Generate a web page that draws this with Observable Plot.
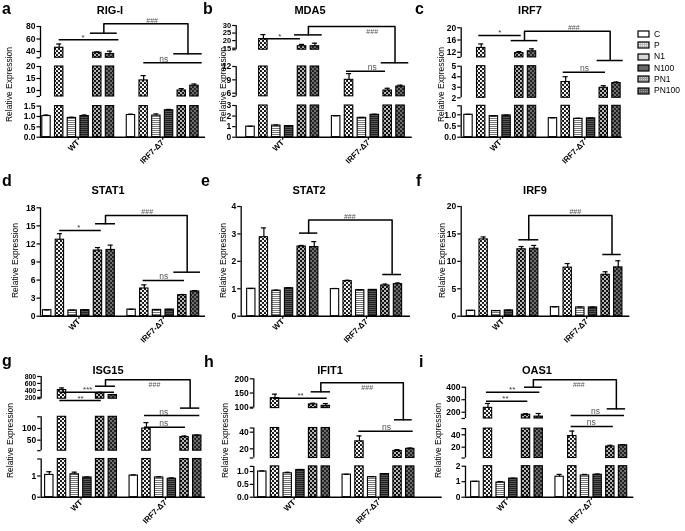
<!DOCTYPE html>
<html><head><meta charset="utf-8">
<script src="https://cdn.jsdelivr.net/npm/d3@7"></script>
<script src="https://cdn.jsdelivr.net/npm/@observablehq/plot@0.6"></script>
<style>
body{margin:0;background:#fff;font-family:"Liberation Sans",Arial,sans-serif;}
#fig{position:relative;width:685px;height:531px;overflow:hidden;background:#fff;}
.panel{position:absolute;will-change:transform;}
.panel svg{overflow:visible;}
.letter{position:absolute;font-weight:bold;font-size:16px;line-height:1;}
.title{position:absolute;font-weight:bold;font-size:11px;line-height:1;transform:translateX(-50%);white-space:nowrap;}
.leg{position:absolute;font-size:8.5px;line-height:1;white-space:nowrap;}
</style></head>
<body>
<svg width="0" height="0" style="position:absolute">
<defs>
<pattern id="pat-C" width="4" height="4" patternUnits="userSpaceOnUse"><rect width="4" height="4" fill="#fff"/></pattern>
<pattern id="pat-P" width="4" height="4" patternUnits="userSpaceOnUse"><rect width="4" height="4" fill="#111"/><circle cx="1" cy="1" r="1.15" fill="#fff"/><circle cx="3" cy="3" r="1.15" fill="#fff"/></pattern>
<pattern id="pat-N1" width="4" height="2" patternUnits="userSpaceOnUse"><rect width="4" height="2" fill="#fff"/><rect width="4" height="1" fill="#777"/></pattern>
<pattern id="pat-N100" width="2" height="2" patternUnits="userSpaceOnUse"><rect width="2" height="2" fill="#555"/><rect width="2" height="1" fill="#222"/></pattern>
<pattern id="pat-PN1" width="4" height="4" patternUnits="userSpaceOnUse"><rect width="4" height="4" fill="#111"/><circle cx="1" cy="1" r="1.0" fill="#eee"/><circle cx="3" cy="3" r="1.0" fill="#eee"/></pattern>
<pattern id="pat-PN100" width="4" height="4" patternUnits="userSpaceOnUse"><rect width="4" height="4" fill="#222"/><circle cx="1" cy="1" r="1.0" fill="#888"/><circle cx="3" cy="3" r="1.0" fill="#888"/></pattern>
<pattern id="leg-P" width="2" height="2" patternUnits="userSpaceOnUse"><rect width="2" height="2" fill="#bbb"/><rect width="1" height="1" fill="#eee"/></pattern>
<pattern id="leg-PN1" width="2" height="2" patternUnits="userSpaceOnUse"><rect width="2" height="2" fill="#999"/><rect width="1" height="1" fill="#ccc"/></pattern>
<pattern id="leg-PN100" width="2" height="2" patternUnits="userSpaceOnUse"><rect width="2" height="2" fill="#666"/><rect width="1" height="1" fill="#999"/></pattern>
</defs></svg>
<div id="fig"></div>
<script>
// ---------- data ----------
const groups = ["WT", "IRF7-Δ7"];
const conditions = ["C", "P", "N1", "N100", "PN1", "PN100"];
const genes = ["RIG-I", "MDA5", "IRF7", "STAT1", "STAT2", "IRF9", "ISG15", "IFIT1", "OAS1"];
const letters = ["a", "b", "c", "d", "e", "f", "g", "h", "i"];
const yTitle = "Relative Expression";

// values: WT (C,P,N1,N100,PN1,PN100) then IRF7-Δ7 (same order)
const meanRIGI = [1.02, 46, 0.93, 1.02, 38, 36, 1.07, 14.2, 1.04, 1.30, 10.0, 12.0];
const sdRIGI   = [0.05, 6, 0.03, 0.05, 1.5, 4.5, 0.04, 2.0, 0.08, 0.04, 0.8, 0.7];
const meanMDA5 = [1.0, 21, 1.1, 1.05, 16.3, 16.3, 2.0, 9.0, 1.83, 2.12, 6.6, 7.5];
const sdMDA5   = [0.03, 3, 0.05, 0.02, 1.2, 2.0, 0.02, 1.4, 0.04, 0.05, 0.5, 0.3];
const meanIRF7 = [1.0, 13.4, 0.94, 0.97, 11.7, 12.3, 0.85, 3.5, 0.82, 0.84, 2.95, 3.4];
const sdIRF7   = [0.02, 1.3, 0.01, 0.01, 0.5, 0.8, 0.01, 0.5, 0.02, 0.01, 0.2, 0.1];
const meanSTAT1 = [1.0, 12.7, 0.95, 1.0, 10.9, 11.0, 1.1, 4.6, 1.05, 1.1, 3.5, 4.1];
const sdSTAT1   = [0.03, 1.0, 0.05, 0.03, 0.5, 0.8, 0.03, 0.6, 0.03, 0.03, 0.1, 0.15];
const meanSTAT2 = [1.0, 2.88, 0.93, 1.02, 2.54, 2.52, 0.99, 1.28, 0.95, 0.96, 1.12, 1.17];
const sdSTAT2   = [0.01, 0.34, 0.02, 0.02, 0.04, 0.2, 0.02, 0.03, 0.01, 0.01, 0.05, 0.04];
const meanIRF9 = [1.0, 14.0, 0.95, 1.05, 12.2, 12.3, 1.65, 8.85, 1.6, 1.6, 7.55, 8.9];
const sdIRF9   = [0.05, 0.45, 0.05, 0.05, 0.5, 0.6, 0.05, 0.75, 0.05, 0.05, 0.55, 1.2];
const meanISG15 = [1.05, 410, 1.08, 0.93, 315, 265, 1.02, 100, 0.93, 0.87, 63, 70];
const sdISG15   = [0.15, 60, 0.1, 0.02, 30, 15, 0.03, 25, 0.03, 0.04, 5, 2];
const meanIFIT1 = [1.0, 132, 0.93, 1.06, 110, 105, 0.88, 29, 0.78, 0.9, 17.5, 20];
const sdIFIT1   = [0.02, 14, 0.04, 0.02, 4, 8, 0.01, 6.5, 0.02, 0.02, 1.5, 1];
const meanOAS1 = [1.0, 235, 0.95, 1.2, 180, 165, 1.32, 38, 1.4, 1.45, 21, 23];
const sdOAS1   = [0.02, 35, 0.06, 0.02, 8, 25, 0.15, 8, 0.07, 0.04, 2, 1];

// broken y-axis segments and tick labels
const breaksRIGI = [[0, 1.5], [7.5, 20], [30, 80]];   const ticksRIGI = [[0, 0.5, 1, 1.5], [10, 15, 20], [40, 60, 80]];
const breaksMDA5 = [[0, 3], [5.3, 12], [14, 30]];     const ticksMDA5 = [[0, 1, 2, 3], [6, 9, 12], [15, 20, 25, 30]];
const breaksIRF7 = [[0, 1.4], [2, 5], [10.3, 20]];    const ticksIRF7 = [[0, 0.5, 1], [2, 3, 4, 5], [12, 16, 20]];
const breaksSTAT1 = [[0, 18]];                        const ticksSTAT1 = [[0, 3, 6, 9, 12, 15, 18]];
const breaksSTAT2 = [[0, 4]];                         const ticksSTAT2 = [[0, 1, 2, 3, 4]];
const breaksIRF9 = [[0, 20]];                         const ticksIRF9 = [[0, 5, 10, 15, 20]];
const breaksISG15 = [[0, 1.8], [5, 150], [160, 800]]; const ticksISG15 = [[0, 1], [50, 100], [200, 400, 600, 800]];
const breaksIFIT1 = [[0, 1.2], [9, 45], [97, 200]];   const ticksIFIT1 = [[0, 0.5, 1], [20, 40], [100, 150, 200]];
const breaksOAS1 = [[0, 2], [2.5, 50], [150, 400]];   const ticksOAS1 = [[0, 1, 2], [20, 40], [200, 300, 400]];

// significance annotations (x in bar-slot units, y in data units, lx = label x)
const sigRIGI = [{x1: 1.0, x2: 5.7, y: 58.7, lx: 2.87, label: "*"}, {x1: 7.66, x2: 12.26, y: 24.2, lx: 9.24, label: "ns"}];
const hashRIGI = {a: [3.46, 5.57], ya: 69.3, b: [10.02, 12.26], yb: 36.3, top: 84.3, lx: 8.32, label: "###", below: false};
const sigMDA5 = [{x1: 0.91, x2: 3.88, y: 21.2, lx: 2.27, label: "*"}, {x1: 7.45, x2: 10.48, y: 10.94, lx: 9.45, label: "ns"}];
const hashMDA5 = {a: [3.42, 5.57], ya: 23.8, b: [10.15, 12.29], yb: 12.44, top: 29.3, lx: 9.45, label: "###", below: true};
const sigIRF7 = [{x1: 0.81, x2: 4.15, y: 17.5, lx: 2.46, label: "*"}, {x1: 7.46, x2: 10.79, y: 4.43, lx: 9.13, label: "ns"}];
const hashIRF7 = {a: [3.36, 5.46], ya: 15.8, b: [10.13, 12.18], yb: 8.43, top: 18.9, lx: 8.29, label: "###", below: false};
const sigSTAT1 = [{x1: 0.99, x2: 4.26, y: 14.24, lx: 2.49, label: "*"}, {x1: 7.56, x2: 10.82, y: 5.93, lx: 9.19, label: "ns"}];
const hashSTAT1 = {a: [3.81, 5.38], ya: 15.35, b: [9.98, 12.08], yb: 7.31, top: 16.73, lx: 7.88, label: "###", below: false};
const sigSTAT2 = [];
const hashSTAT2 = {a: [3.83, 5.28], ya: 3.03, b: [10.44, 11.93], yb: 1.52, top: 3.51, lx: 7.82, label: "###", below: false};
const sigIRF9 = [];
const hashIRF9 = {a: [3.78, 5.36], ya: 13.93, b: [10.43, 11.88], yb: 11.25, top: 18.36, lx: 8.25, label: "###", below: false};
const sigISG15 = [{x1: 0.83, x2: 5.13, y: 347, lx: 3.03, label: "***"}, {x1: 0.83, x2: 4.09, y: 159, lx: 2.46, label: "**"},
                  {x1: 7.5, x2: 11.85, y: 150.7, lx: 9.02, label: "ns"}, {x1: 7.5, x2: 10.72, y: 105.6, lx: 9.02, label: "ns"}];
const hashISG15 = {a: [3.64, 5.21], ya: 520, b: [10.33, 11.85], yb: 154.8, top: 705, lx: 8.28, label: "###", below: true};
const sigIFIT1 = [{x1: 0.86, x2: 5.11, y: 131.7, lx: 3.01, label: "**"}, {x1: 7.6, x2: 11.88, y: 41.2, lx: 9.78, label: "ns"}];
const hashIFIT1 = {a: [3.85, 5.37], ya: 154.2, b: [10.41, 11.8], yb: 66.4, top: 185.9, lx: 8.26, label: "###", below: true};
const sigOAS1 = [{x1: 0.88, x2: 5.09, y: 360, lx: 2.91, label: "**"}, {x1: 0.88, x2: 4.14, y: 288, lx: 2.38, label: "**"},
                 {x1: 7.56, x2: 11.77, y: 174, lx: 9.48, label: "ns"}, {x1: 7.56, x2: 10.88, y: 70.8, lx: 9.14, label: "ns"}];
const hashOAS1 = {a: [3.88, 5.28], ya: 400, b: [10.4, 11.85], yb: 227, top: 459, lx: 8.16, label: "###", below: true};

const panels = [
  {mean: meanRIGI, sd: sdRIGI, breaks: breaksRIGI, ticks: ticksRIGI, sig: sigRIGI, hash: hashRIGI},
  {mean: meanMDA5, sd: sdMDA5, breaks: breaksMDA5, ticks: ticksMDA5, sig: sigMDA5, hash: hashMDA5},
  {mean: meanIRF7, sd: sdIRF7, breaks: breaksIRF7, ticks: ticksIRF7, sig: sigIRF7, hash: hashIRF7},
  {mean: meanSTAT1, sd: sdSTAT1, breaks: breaksSTAT1, ticks: ticksSTAT1, sig: sigSTAT1, hash: hashSTAT1},
  {mean: meanSTAT2, sd: sdSTAT2, breaks: breaksSTAT2, ticks: ticksSTAT2, sig: sigSTAT2, hash: hashSTAT2},
  {mean: meanIRF9, sd: sdIRF9, breaks: breaksIRF9, ticks: ticksIRF9, sig: sigIRF9, hash: hashIRF9},
  {mean: meanISG15, sd: sdISG15, breaks: breaksISG15, ticks: ticksISG15, sig: sigISG15, hash: hashISG15},
  {mean: meanIFIT1, sd: sdIFIT1, breaks: breaksIFIT1, ticks: ticksIFIT1, sig: sigIFIT1, hash: hashIFIT1},
  {mean: meanOAS1, sd: sdOAS1, breaks: breaksOAS1, ticks: ticksOAS1, sig: sigOAS1, hash: hashOAS1}
];

// ---------- layout (page pixels) ----------
const layout = [
  {ox: 0,   oy: 0,   w: 222, h: 172, axisX: 40,    x0: 46,    step: 12.7,  endX: 205,   segPx: [[136.7, 105.6], [96, 66], [57.25, 26]],     title: [110, 14],  letter: [2, 14],    ylab: [8.5, 84]},
  {ox: 220, oy: 0,   w: 225, h: 172, axisX: 235.7, x0: 250,   step: 12.88, endX: 411.7, segPx: [[136.7, 105], [95.8, 66], [49.2, 25]],      title: [310, 14],  letter: [203, 14],  ylab: [223, 84]},
  {ox: 440, oy: 0,   w: 245, h: 172, axisX: 460.7, x0: 468,   step: 12.7,  endX: 621.7, segPx: [[136.7, 105.3], [97.3, 65.7], [56.9, 27.3]], title: [530, 14],  letter: [415, 14],  ylab: [441, 84]},
  {ox: 0,   oy: 170, w: 222, h: 180, axisX: 40,    x0: 46.7,  step: 12.69, endX: 205,   segPx: [[315.7, 207.3]],                          title: [108, 194], letter: [2, 186],   ylab: [15, 260]},
  {ox: 220, oy: 170, w: 225, h: 180, axisX: 240.7, x0: 250.8, step: 12.59, endX: 410,   segPx: [[315.7, 206]],                            title: [309, 194], letter: [201, 186], ylab: [223, 260]},
  {ox: 440, oy: 170, w: 245, h: 180, axisX: 460.7, x0: 470.5, step: 12.64, endX: 629.3, segPx: [[315.7, 206]],                            title: [535, 194], letter: [416, 186], ylab: [442, 260]},
  {ox: 0,   oy: 350, w: 222, h: 181, axisX: 40.7,  x0: 48.8,  step: 12.7,  endX: 205,   segPx: [[496.7, 458.5], [450.2, 416.3], [398.2, 376]], title: [108, 374], letter: [2, 366], ylab: [10, 440]},
  {ox: 220, oy: 350, w: 225, h: 181, axisX: 253.3, x0: 261.8, step: 12.7,  endX: 441.7, segPx: [[496.7, 465.9], [457.5, 427.5], [407.6, 378.3]], title: [330, 374], letter: [204, 367], ylab: [225, 440]},
  {ox: 440, oy: 350, w: 245, h: 181, axisX: 465,   x0: 474.8, step: 12.68, endX: 633.3, segPx: [[496.7, 465.7], [457.5, 428.1], [418, 386.7]], title: [537, 374], letter: [419, 367], ylab: [438, 440]}
];

const GAP = 6.65; // slot offset of the second group
const slot = (k) => Math.floor(k / 6) * GAP + (k % 6);
const fig = document.getElementById("fig");

function addText(cls, txt, x, y) {
  const d = document.createElement("div");
  d.className = cls; d.textContent = txt;
  d.style.left = x + "px"; d.style.top = y + "px";
  fig.appendChild(d);
  return d;
}

panels.forEach((p, i) => {
  const L = layout[i];
  const xd = [(L.axisX - L.x0) / L.step, (L.endX - L.x0) / L.step];
  const flatPx = L.segPx.flat();
  const base = L.segPx[0][0];
  const topPx = Math.min(...flatPx);
  const bars = p.mean.map((m, k) => ({s: slot(k), m, e: p.sd[k], cond: conditions[k % 6]}));
  const pieces = [];
  bars.forEach(b => {
    p.breaks.forEach(([lo, hi], j) => {
      const bottom = j === 0 ? 0 : lo;
      if (b.m > bottom) pieces.push({cond: b.cond, x1: b.s - 0.33, x2: b.s + 0.33, y1: bottom, y2: Math.min(b.m, hi)});
    });
  });
  // y axis: one axis mark per segment (font shrinks where ticks are dense)
  const axes = p.breaks.map((b, j) => {
    const t = p.ticks[j];
    const f = t.some(v => !Number.isInteger(v)) ? d3.format(".1f") : d3.format("d");
    const vals = [...new Set([...b, ...t])];
    const pxPerUnit = Math.abs(L.segPx[j][0] - L.segPx[j][1]) / (b[1] - b[0]);
    const spacing = t.length > 1 ? pxPerUnit * (t[1] - t[0]) : 20;
    const fs = Math.min(8.5, spacing * 1.0);
    return Plot.axisY(vals, {tickFormat: d => t.includes(d) ? f(d) : "", tickSize: 3.5, tickPadding: 1.5,
      strokeWidth: 1.2, label: null, fontSize: fs, fontWeight: "bold"});
  });
  const h = p.hash;
  const am = (h.a[0] + h.a[1]) / 2, bm = (h.b[0] + h.b[1]) / 2;
  const grey = "#555";

  const marks = [
    ...conditions.map(c => Plot.rect(pieces.filter(d => d.cond === c), {
      x1: "x1", x2: "x2", y1: "y1", y2: "y2", fill: `url(#pat-${c})`, stroke: "black", strokeWidth: 1.1
    })),
    Plot.ruleX(bars, {x: "s", y1: "m", y2: d => d.m + d.e, stroke: "black", strokeWidth: 1.2}),
    Plot.ruleY(bars, {y: d => d.m + d.e, x1: d => d.s - 0.2, x2: d => d.s + 0.2, stroke: "black", strokeWidth: 1.2}),
    Plot.ruleX(p.breaks, {x: () => xd[0], y1: d => d[0], y2: d => d[1], stroke: "black", strokeWidth: 1.3}),
    Plot.ruleY([0], {stroke: "black", strokeWidth: 1.5}),
    ...axes,
    Plot.axisX([slot(2.5), GAP + 2.5], {tickFormat: d => groups[d < GAP ? 0 : 1], tickRotate: -45, tickSize: 3, tickPadding: 1,
      strokeWidth: 1.2, label: null, fontSize: 8, fontWeight: "bold"}),
    // y-axis title
    Plot.text([yTitle], {frameAnchor: "left", rotate: -90, text: d => d, textAnchor: "middle", lineAnchor: "middle",
      dx: L.ylab[0] - L.axisX, dy: L.ylab[1] - (topPx + base) / 2, fontSize: 8.5, fontWeight: "normal", fill: "black"}),
    // significance lines
    Plot.ruleY(p.sig, {x1: "x1", x2: "x2", y: "y", stroke: "black", strokeWidth: 1.5}),
    Plot.text(p.sig.filter(d => d.label === "ns"), {x: "lx", y: "y", text: "label", lineAnchor: "bottom", dy: -1,
      fill: grey, fontSize: 8.5, fontWeight: "normal"}),
    Plot.text(p.sig.filter(d => d.label !== "ns"), {x: "lx", y: "y", text: "label", lineAnchor: "bottom", dy: 0,
      fill: "#333", fontSize: 8, fontWeight: "normal"}),
    // ### bracket
    Plot.line([[am, h.ya], [am, h.top], [bm, h.top], [bm, h.yb]], {x: d => d[0], y: d => d[1], stroke: "black", strokeWidth: 1.5}),
    Plot.ruleY([{x1: h.a[0], x2: h.a[1], y: h.ya}, {x1: h.b[0], x2: h.b[1], y: h.yb}], {x1: "x1", x2: "x2", y: "y", stroke: "black", strokeWidth: 1.5}),
    Plot.text([h], {x: "lx", y: "top", text: "label", lineAnchor: h.below ? "top" : "bottom", dy: h.below ? 2 : -1,
      fill: grey, fontSize: 7, fontWeight: "normal"})
  ];

  const chart = Plot.plot({
    width: L.w, height: L.h,
    marginLeft: L.axisX - L.ox, marginRight: L.ox + L.w - L.endX,
    marginTop: topPx - L.oy, marginBottom: L.oy + L.h - base,
    x: {type: "linear", domain: xd, axis: null},
    y: {type: "linear", domain: p.breaks.flat(), range: flatPx.map(v => v - L.oy), axis: null},
    style: {background: "transparent", fontFamily: "Liberation Sans, Arial, sans-serif", fontSize: "8.5px", color: "black", overflow: "visible"},
    marks
  });
  const wrap = document.createElement("div");
  wrap.className = "panel";
  wrap.style.left = L.ox + "px"; wrap.style.top = L.oy + "px";
  wrap.appendChild(chart);
  fig.appendChild(wrap);

  addText("letter", letters[i], L.letter[0], L.letter[1] - 13.5);
  addText("title", genes[i], L.title[0], L.title[1] - 9.3);
});

// legend
const legFill = {C: "#fff", P: "url(#leg-P)", N1: "#d8d8d8", N100: "#666", PN1: "url(#leg-PN1)", PN100: "url(#leg-PN100)"};
conditions.forEach((c, i) => {
  const cy = 34 + i * 11.3;
  const sw = document.createElementNS("http://www.w3.org/2000/svg", "svg");
  sw.setAttribute("width", 13); sw.setAttribute("height", 8);
  sw.style.position = "absolute"; sw.style.left = "637px"; sw.style.top = (cy - 4) + "px";
  const r = document.createElementNS("http://www.w3.org/2000/svg", "rect");
  r.setAttribute("x", 1); r.setAttribute("y", 1); r.setAttribute("width", 11); r.setAttribute("height", 6);
  r.setAttribute("fill", legFill[c]); r.setAttribute("stroke", "black"); r.setAttribute("stroke-width", 1.2);
  sw.appendChild(r); fig.appendChild(sw);
  addText("leg", c, 654, cy - 4.3);
});
</script>
</body></html>
